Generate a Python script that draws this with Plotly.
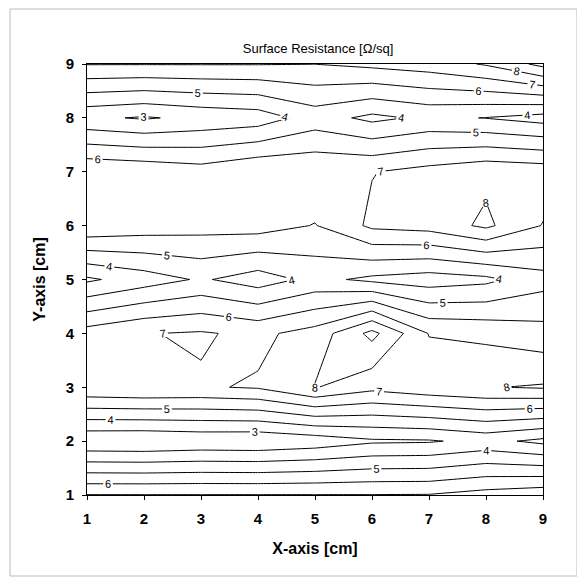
import plotly.graph_objects as go

# Grid positions (cm)
x_cm = [1, 2, 3, 4, 5, 6, 7, 8, 9]
y_cm = [1, 2, 3, 4, 5, 6, 7, 8, 9]

# Surface resistance values [Ohm/sq], one row per y position (x = 1..9)
r_y1 = [7.03, 7.03, 7.03, 7.03, 7.03, 7.03, 7.05, 7.40, 7.70]
r_y2 = [2.10, 2.05, 2.20, 2.15, 2.40, 2.85, 2.90, 3.30, 2.75]
r_y3 = [6.85, 6.98, 6.90, 7.10, 8.05, 7.30, 7.70, 7.95, 8.10]
r_y4 = [6.45, 6.96, 7.10, 6.77, 7.40, 9.30, 6.95, 6.75, 6.40]
r_y5 = [2.83, 3.50, 4.125, 3.50, 4.28, 3.77, 3.50, 3.75, 4.60]
r_y6 = [6.85, 6.55, 6.40, 6.45, 5.95, 7.20, 7.40, 8.20, 6.95]
r_y7 = [6.90, 6.75, 6.45, 6.95, 6.90, 6.96, 7.35, 7.75, 7.60]
r_y8 = [3.20, 2.90, 3.25, 3.45, 4.45, 3.75, 4.20, 3.97, 3.60]
r_y9 = [7.05, 7.05, 7.05, 7.05, 7.01, 7.25, 7.50, 8.10, 9.30]

z = [r_y1, r_y2, r_y3, r_y4, r_y5, r_y6, r_y7, r_y8, r_y9]

FONT = "Arial, Liberation Sans, sans-serif"

fig = go.Figure(
    go.Contour(
        x=x_cm,
        y=y_cm,
        z=z,
        contours=dict(
            start=3, end=9, size=1,
            coloring="lines",
            showlabels=True,
            labelfont=dict(size=11, color="black", family=FONT),
        ),
        line=dict(width=1, smoothing=0),
        colorscale=[[0, "black"], [1, "black"]],
        showscale=False,
        hoverinfo="skip",
    )
)

axis_common = dict(
    range=[1, 9], dtick=1, showgrid=False, zeroline=False,
    showline=True, linecolor="black", linewidth=1, mirror=True,
    ticks="outside", ticklen=4, tickcolor="black", automargin=False,
    tickfont=dict(size=15, color="black", family=FONT, weight="bold"),
)

fig.update_layout(
    width=585, height=585,
    margin=dict(l=79, r=50, t=56, b=98),
    paper_bgcolor="white", plot_bgcolor="white",
    title=dict(text="Surface Resistance [Ω/sq]", x=0.530, xanchor="center",
               y=0.9316, yanchor="middle", automargin=False,
               font=dict(size=13, color="black", family=FONT)),
    xaxis=dict(axis_common, ticklabelstandoff=6,
               title=dict(text="X-axis [cm]", standoff=16,
               font=dict(size=16, color="black", family=FONT, weight="bold"))),
    yaxis=dict(axis_common, ticklabelstandoff=5,
               title=dict(text="Y-axis [cm]", standoff=16,
               font=dict(size=16, color="black", family=FONT, weight="bold"))),
    shapes=[dict(type="rect", xref="paper", yref="paper",
                 x0=(2 - 79) / 456, x1=(569 - 79) / 456,
                 y0=(487 - 568) / 431, y1=(487 - 1) / 431,
                 line=dict(color="#bbbbbb", width=1), layer="below")],
)

fig.write_html("out.html")
